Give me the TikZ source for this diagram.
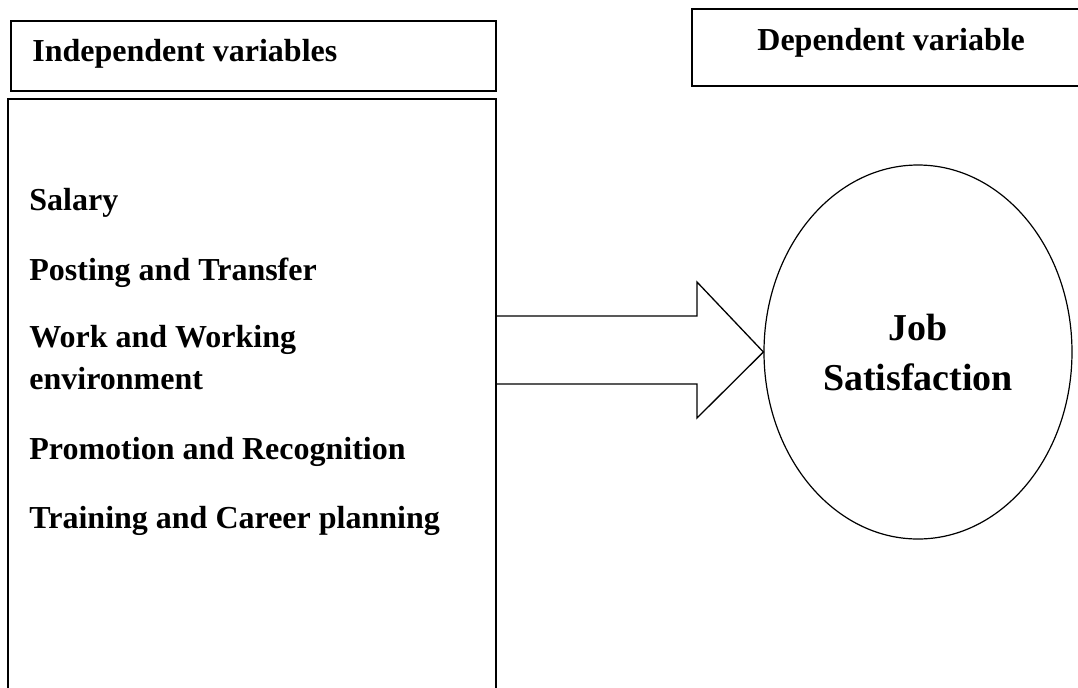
\documentclass[tikz,border=0pt]{standalone}
\usepackage{fontspec}
\setmainfont{Liberation Serif}
\usetikzlibrary{shapes.geometric}
\begin{document}
\begin{tikzpicture}[x=0.5pt,y=-0.5pt,
  boxline/.style={draw=black,line width=1pt,fill=none,inner sep=0pt},
  itemtext/.style={anchor=base west,inner sep=0pt,align=left,font=\fontsize{16}{21}\selectfont\bfseries},
  headtext/.style={anchor=base west,inner sep=0pt,font=\fontsize{16}{21}\selectfont\bfseries},
  ovalnode/.style={draw=black,line width=0.6pt,ellipse,inner sep=0pt,align=center,font=\fontsize{19}{25}\selectfont\bfseries},
  blockarrow/.style={draw=black,line width=0.65pt,fill=white,line join=miter}
]
\useasboundingbox (0,0) rectangle (1078,687);
\clip (0,0) rectangle (1078,687);
\fill[white] (0,0) rectangle (1078,687);

% header boxes
\node[boxline,minimum width=242.5pt,minimum height=35pt] (indbox) at (253.5,56) {};
\node[headtext] (indtext) at (32,61) {Independent variables};
\node[boxline,minimum width=195pt,minimum height=38.5pt] (depbox) at (887,47.5) {};
\node[headtext] (deptext) at (757,50) {Dependent variable};

% big box (runs off the bottom)
\node[boxline,minimum width=244pt,minimum height=300.5pt] (bigbox) at (252,399.5) {};
\node[itemtext] (salary) at (29,210) {Salary};
\node[itemtext] (posting) at (29,280) {Posting and Transfer};
\node[itemtext] (work) at (29,389) {Work and Working\\environment};
\node[itemtext] (promo) at (29,459) {Promotion and Recognition};
\node[itemtext] (train) at (29,528) {Training and Career planning};

% ellipse
\node[ovalnode,minimum width=154pt,minimum height=187pt] (job) at (918,352) {Job\\Satisfaction};

% block arrow
\coordinate (a1) at (bigbox.east |- 0,316);
\coordinate (a2) at (697,316);
\coordinate (a3) at (697,282);
\coordinate (tip) at (job.west);
\coordinate (a5) at (697,418);
\coordinate (a6) at (697,384);
\coordinate (a7) at (bigbox.east |- 0,384);
\draw[blockarrow] (a1) -- (a2) -- (a3) -- (tip) -- (a5) -- (a6) -- (a7);
\end{tikzpicture}
\end{document}
